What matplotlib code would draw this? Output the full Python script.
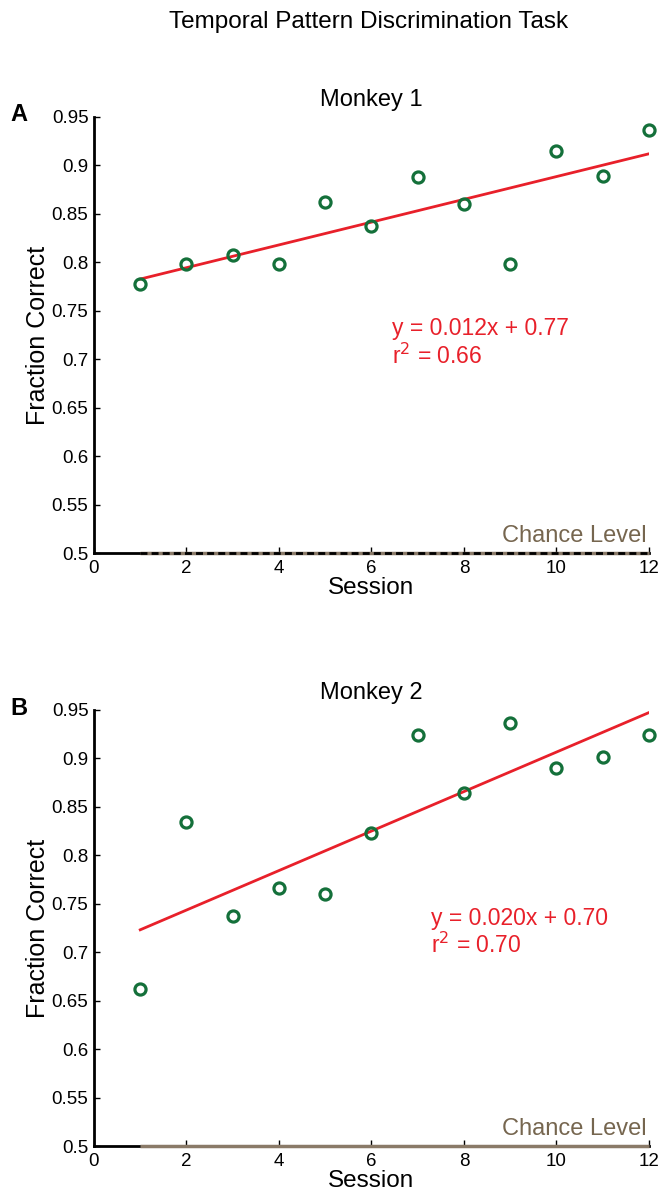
import numpy as np
import matplotlib.pyplot as plt

plt.rcParams['font.family'] = ['Liberation Sans', 'DejaVu Sans']

# sessions and fraction correct
sessions = np.arange(1, 13)
monkey1 = [0.778, 0.798, 0.808, 0.798, 0.862, 0.8375, 0.888, 0.860, 0.798, 0.915, 0.889, 0.937]
monkey2 = [0.662, 0.834, 0.737, 0.766, 0.760, 0.823, 0.924, 0.864, 0.937, 0.890, 0.9015, 0.924]
eq_text = ['y = 0.012x + 0.77', 'y = 0.020x + 0.70']
r2_text = ['0.66', '0.70']
titles = ['Monkey 1', 'Monkey 2']
panel_letters = ['A', 'B']
yticks = [0.5, 0.55, 0.6, 0.65, 0.7, 0.75, 0.8, 0.85, 0.9, 0.95]
xticks = [0, 2, 4, 6, 8, 10, 12]
chance = 0.5

green = '#14703a'
red = '#e8202a'
brown = '#8a7a68'

fig = plt.figure(figsize=(6.61, 11.95), dpi=100)
fig.text(0.558, 0.982, 'Temporal Pattern Discrimination Task', ha='center', va='center', fontsize=17.5)

axes_pos = [[0.1422, 0.5372, 0.8396, 0.3649], [0.1422, 0.0410, 0.8396, 0.3649]]
eq_pos = [(6.44, 0.732, 0.703), (7.29, 0.735, 0.707)]
letter_y = [0.904, 0.407]

for i, data in enumerate([monkey1, monkey2]):
    ax = fig.add_axes(axes_pos[i])
    # chance level line
    ax.plot([1, 12], [chance, chance], color=brown, lw=2.5, zorder=3, clip_on=False, solid_capstyle='butt')
    if i == 0:
        ax.plot([1, 12], [chance, chance], color='black', lw=2, ls=(0, (2.5, 1.5)), zorder=4, clip_on=False)
    ax.text(11.95, 0.5115, 'Chance Level', color='#76664f', fontsize=17, ha='right', va='baseline')

    slope, icpt = np.polyfit(sessions, data, 1)
    ax.plot([1, 12], [slope * 1 + icpt, slope * 12 + icpt], color=red, lw=2, zorder=2)
    ax.plot(sessions, data, 'o', mfc='none', mec=green, mew=2.3, ms=8, zorder=5, clip_on=False)

    ex, ey1, ey2 = eq_pos[i]
    ax.text(ex, ey1, eq_text[i], color=red, fontsize=16.5, va='center')
    ax.text(ex, ey2, r'r$^2$ = ' + r2_text[i], color=red, fontsize=16.5, va='center')

    ax.set_xlim(0, 12)
    ax.set_ylim(0.5, 0.95)
    ax.set_xticks(xticks)
    ax.set_yticks(yticks)
    ax.set_yticklabels([('%.2f' % v).rstrip('0').rstrip('.') for v in yticks])
    ax.tick_params(direction='in', length=4, width=1, labelsize=13.5)
    ax.tick_params(axis='y', pad=4)
    ax.tick_params(axis='x', pad=5)
    for s in ['top', 'right']:
        ax.spines[s].set_visible(False)
    for s in ['left', 'bottom']:
        ax.spines[s].set_linewidth(2)
    ax.set_xlabel('Session', fontsize=17.5, labelpad=0)
    ax.set_ylabel('Fraction Correct', fontsize=18, labelpad=1)
    ax.set_title(titles[i], fontsize=17, pad=8)
    fig.text(0.015, letter_y[i], panel_letters[i], fontsize=17, fontweight='bold', va='center')

fig.savefig('out.png', dpi=100)
